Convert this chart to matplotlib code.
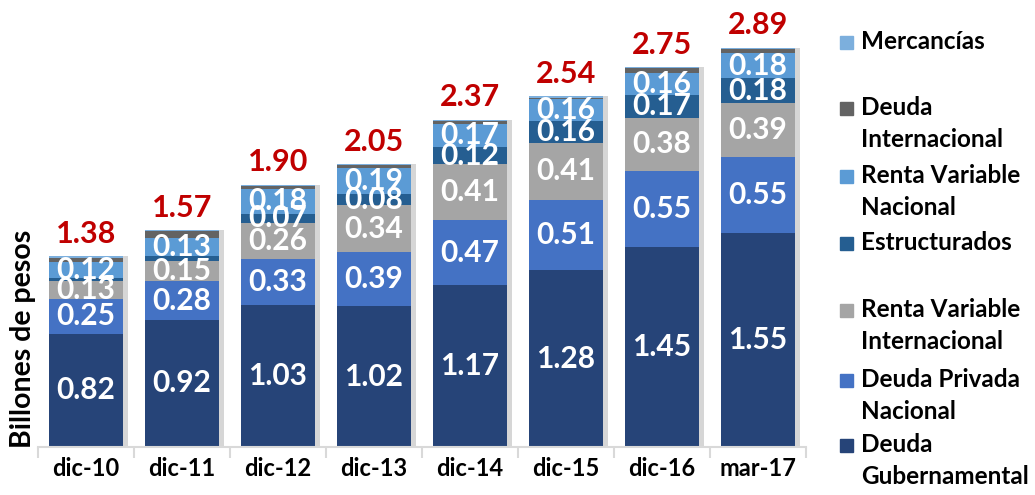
import numpy as np
import matplotlib
matplotlib.use('Agg')
from matplotlib import pyplot as plt
from matplotlib import patheffects as pe
from matplotlib.patches import Rectangle

# === Data ===

categories = ['dic-10', 'dic-11', 'dic-12', 'dic-13', 'dic-14', 'dic-15', 'dic-16', 'mar-17']

gubernamental = [0.82, 0.92, 1.03, 1.02, 1.17, 1.28, 1.45, 1.55]
privada_nal   = [0.25, 0.28, 0.33, 0.39, 0.47, 0.51, 0.55, 0.55]
rv_internac   = [0.13, 0.15, 0.26, 0.34, 0.41, 0.41, 0.38, 0.39]
estructurados = [0.02, 0.03, 0.07, 0.08, 0.12, 0.16, 0.17, 0.18]
rv_nacional   = [0.12, 0.13, 0.18, 0.19, 0.17, 0.16, 0.16, 0.18]
deuda_intl    = [0.03, 0.05, 0.02, 0.02, 0.02, 0.01, 0.03, 0.03]
mercancias    = [0.01, 0.01, 0.01, 0.01, 0.01, 0.01, 0.01, 0.01]

totals = [1.38, 1.57, 1.90, 2.05, 2.37, 2.54, 2.75, 2.89]

# which bars get a value label for estructurados (first two too thin)
est_labelled = [False, False, True, True, True, True, True, True]

# series in stacking order: (values, colour, label mask)
all_on = [True] * len(categories)
all_off = [False] * len(categories)
series = [
    (gubernamental, '#264478', all_on),
    (privada_nal, '#4472C4', all_on),
    (rv_internac, '#A5A5A5', all_on),
    (estructurados, '#255E91', est_labelled),
    (rv_nacional, '#5B9BD5', all_on),
    (deuda_intl, '#636363', all_off),
    (mercancias, '#7CAFDD', all_off),
]

plt.rcParams['font.family'] = ['Lato', 'DejaVu Sans']
plt.rcParams['font.weight'] = 'bold'

fig = plt.figure(figsize=[10.35, 4.95], dpi=100)
ax = fig.add_axes([0.0367, 0.097, 0.742, 0.893])

x = np.arange(len(categories))
shadow = [pe.SimplePatchShadow(offset=(4, 0), shadow_rgbFace='#8c8c8c', alpha=0.35), pe.Normal()]

bottom = np.zeros(len(categories))
for vals, col, mask in series:
    bars = ax.bar(x, vals, width=0.77, bottom=bottom, color=col, zorder=2)
    for b in bars:
        b.set_path_effects(shadow)
    labels = ['%.2f' % v if m else '' for v, m in zip(vals, mask)]
    if any(mask):
        ax.bar_label(bars, labels=labels, label_type='center',
                     color='white', fontsize=21.5, fontweight='bold', zorder=5)
    bottom = bottom + np.array(vals)

for i, t in enumerate(totals):
    ax.text(x[i], bottom[i] + 0.06, '%.2f' % t, ha='center', va='bottom',
            color='#C00000', fontsize=22, fontweight='bold')

ax.set_xlim(-0.5, len(categories) - 0.5)
ax.set_ylim(0, 3.2)
ax.set_yticks([])
for s in ['top', 'right', 'left']:
    ax.spines[s].set_visible(False)
ax.spines['bottom'].set_color('#d9d9d9')
ax.spines['bottom'].set_linewidth(1.5)

ax.set_xticks(x)
ax.set_xticklabels(categories, fontsize=17, fontweight='bold')
ax.tick_params(axis='x', length=0, pad=7)
ax.set_xticks(np.arange(len(categories) + 1) - 0.5, minor=True)
ax.tick_params(axis='x', which='minor', length=8, width=1.5, color='#d9d9d9')

ax.set_ylabel('Billones de pesos', fontsize=20.5, fontweight='bold')
ax.yaxis.set_label_coords(-0.002, 0.245)

# === Legend (placed to mimic the original layout) ===
legend_rows = [
    ('Mercancías', '#7CAFDD', 42),
    ('Deuda\nInternacional', '#636363', 108),
    ('Renta Variable\nNacional', '#5B9BD5', 176),
    ('Estructurados', '#255E91', 243),
    ('Renta Variable\nInternacional', '#A5A5A5', 310),
    ('Deuda Privada\nNacional', '#4472C4', 380),
    ('Deuda\nGubernamental', '#264478', 445),
]
W, H = 1035.0, 495.0
for label, col, ypix in legend_rows:
    fig.add_artist(Rectangle((840 / W, 1 - (ypix + 7) / H), 13 / W, 13 / H,
                             transform=fig.transFigure, color=col))
    fig.text(861 / W, 1 - (ypix - 12) / H, label, fontsize=17.5, fontweight='bold',
             va='top', ha='left', linespacing=1.45)

fig.savefig('out.png')
